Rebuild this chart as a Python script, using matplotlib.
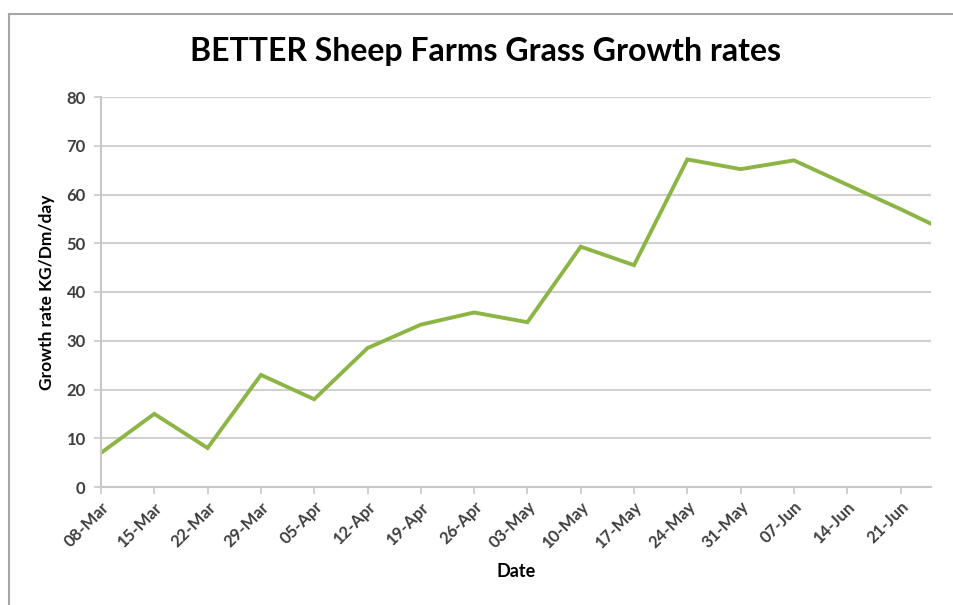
import matplotlib
matplotlib.use("Agg")
import matplotlib.pyplot as plt
import matplotlib.dates as mdates
from matplotlib.lines import Line2D
import pandas as pd

# grass growth readings (kg DM/ha/day)
dates = ['2013-03-08', '2013-03-15', '2013-03-22', '2013-03-29', '2013-04-05',
         '2013-04-12', '2013-04-19', '2013-04-26', '2013-05-03', '2013-05-10',
         '2013-05-17', '2013-05-24', '2013-05-31', '2013-06-07', '2013-06-14',
         '2013-06-21', '2013-06-25']
growth = [7, 15, 8, 23, 18, 28.5, 33.3, 35.8, 33.8, 49.3, 45.5, 67.2, 65.2, 67,
          62, 57, 54]
tick_start = '2013-03-08'
tick_end = '2013-06-21'
y_ticks = [0, 10, 20, 30, 40, 50, 60, 70, 80]

plt.rcParams['font.family'] = ['Lato', 'DejaVu Sans']

x = pd.to_datetime(dates)
ticks = pd.date_range(tick_start, tick_end, freq='7D')

fig = plt.figure(figsize=(9.54, 6.05), dpi=100)
# outer chart frame (only top and left edges visible in the crop)
fig.add_artist(Line2D([9/954, 9/954], [0, (605-14)/605], transform=fig.transFigure,
                      color='#a6a6a6', linewidth=1.5))
fig.add_artist(Line2D([9/954, 1], [(605-14)/605, (605-14)/605], transform=fig.transFigure,
                      color='#a6a6a6', linewidth=1.5))

ax = fig.add_axes([101/954, 118/605, 830/954, 390/605])

ax.plot(x, growth, color='#8cb545', linewidth=2.8, solid_joinstyle='miter')

ax.set_xlim(x[0], x[-1])
ax.set_ylim(0, 80)
ax.set_yticks(y_ticks)
ax.set_xticks(ticks)
ax.xaxis.set_major_formatter(mdates.DateFormatter('%d-%b'))
ax.grid(axis='y', color='#d0d0d0', linewidth=1.5)
ax.set_axisbelow(True)

for s in ['top', 'right']:
    ax.spines[s].set_visible(False)
for s in ['left', 'bottom']:
    ax.spines[s].set_color('#c8c8c8')
    ax.spines[s].set_linewidth(1.5)

ax.tick_params(axis='both', colors='#c8c8c8', length=5, width=1.2,
               labelcolor='#3f3f3f', labelsize=12)
ax.tick_params(axis='y', pad=6)
for lab in ax.get_xticklabels():
    lab.set_rotation(45)
    lab.set_ha('right')
    lab.set_rotation_mode('anchor')
    lab.set_fontweight('bold')
for lab in ax.get_yticklabels():
    lab.set_fontweight('bold')

fig.text(485/954, 1 - 52/605, 'BETTER Sheep Farms Grass Growth rates',
         fontsize=23, fontweight='bold', color='black', ha='center', va='center')
ax.set_ylabel('Growth rate KG/Dm/day', fontsize=12.5, fontweight='bold',
              labelpad=8)
ax.set_xlabel('Date', fontsize=13, fontweight='bold', labelpad=8)

plt.savefig('out.png', dpi=100)
